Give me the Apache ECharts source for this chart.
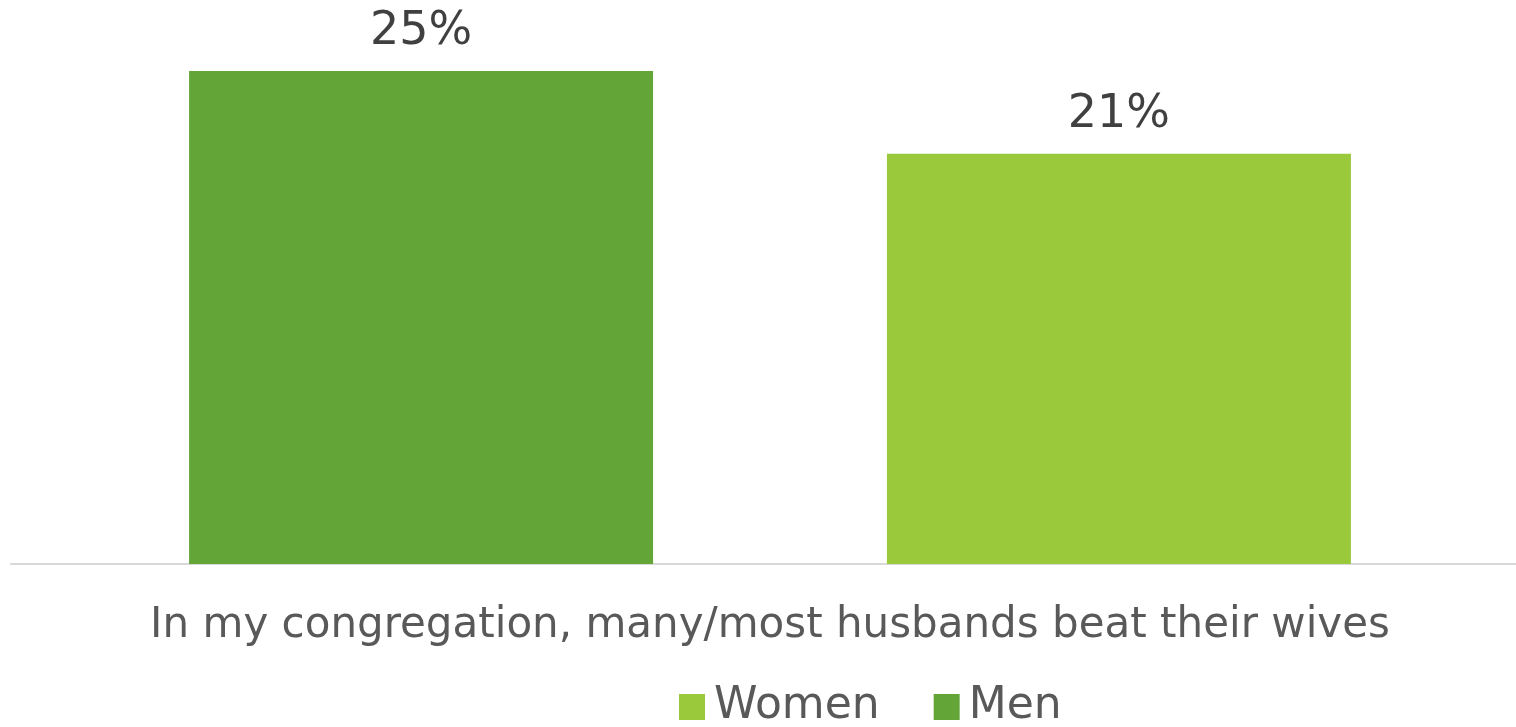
<!DOCTYPE html>
<html>
<head>
<meta charset="utf-8">
<script src="https://cdn.jsdelivr.net/npm/echarts@6/dist/echarts.min.js"></script>
<style>
  html, body { margin: 0; padding: 0; background: #fff; }
  #chart { width: 1516px; height: 727px; }
</style>
</head>
<body>
<div id="chart"></div>
<script>
const categories = ["In my congregation, many/most husbands beat their wives"];
const menValues = [25];
const womenValues = [20.8];
const legendOrder = ["Women", "Men"];

const chart = echarts.init(document.getElementById("chart"));

const fontFamily = "'DejaVu Sans', sans-serif";

const label = {
  show: true,
  position: "top",
  distance: 16,
  color: "#404040",
  fontSize: 46,
  fontFamily: fontFamily,
  formatter: (p) => Math.round(p.value) + "%",
};

chart.setOption({
  animation: false,
  legend: {
    data: legendOrder,
    top: 680,
    left: 674,
    itemWidth: 26,
    itemHeight: 26,
    itemGap: 54,
    icon: "rect",
    textStyle: { color: "#595959", fontSize: 44, fontFamily: fontFamily, padding: [0, 0, 0, 4] },
  },
  // grid 0 holds the bars, grid 1 only draws the longer baseline
  grid: [
    { left: 24, right: 0, top: 71, bottom: 163 },
    { left: 11, right: 0, top: 71, bottom: 163 },
  ],
  xAxis: [
    {
      type: "category",
      data: categories,
      gridIndex: 0,
      axisLine: { show: false },
      axisTick: { show: false },
      axisLabel: {
        color: "#595959",
        fontSize: 42,
        fontFamily: fontFamily,
        margin: 41,
      },
    },
    {
      type: "category",
      data: categories,
      gridIndex: 1,
      axisLine: { lineStyle: { color: "#d9d9d9", width: 2 } },
      axisTick: { show: false },
      axisLabel: { show: false },
    },
  ],
  yAxis: [
    { type: "value", min: 0, max: 25, show: false, gridIndex: 0 },
    { type: "value", min: 0, max: 25, show: false, gridIndex: 1 },
  ],
  series: [
    {
      name: "Men",
      type: "bar",
      data: menValues,
      barWidth: 464,
      barGap: "50.4%",
      itemStyle: { color: "#63a537" },
      label: label,
      z: 3,
    },
    {
      name: "Women",
      type: "bar",
      data: womenValues,
      barWidth: 464,
      itemStyle: { color: "#9aca3c" },
      label: label,
      z: 3,
    },
  ],
});
</script>
</body>
</html>
